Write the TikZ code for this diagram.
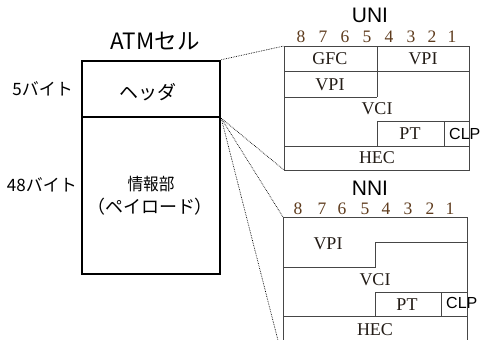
\documentclass[tikz,border=0pt]{standalone}
\usepackage{fontspec}
\setmainfont{Liberation Serif}
\setsansfont{Liberation Sans}
\newfontfamily\jp{Noto Sans CJK JP}
\definecolor{bitc}{RGB}{95,60,30}
\definecolor{frm}{RGB}{70,70,70}
\definecolor{fldc}{RGB}{35,28,22}
\begin{document}
\begin{tikzpicture}[x=1pt,y=-1pt,
  cellbox/.style={draw=black,line width=2.5pt,inner sep=0pt},
  jlab/.style={font=\jp\fontsize{17}{19}\selectfont,inner sep=0pt},
  title/.style={font=\sffamily\fontsize{21}{22}\selectfont,inner sep=0pt},
  fld/.style={font=\rmfamily\fontsize{18}{19}\selectfont,inner sep=0pt,text=fldc},
  bit/.style={font=\rmfamily\fontsize{17.5}{18}\selectfont,inner sep=0pt,text=bitc},
  clp/.style={font=\sffamily\fontsize{16}{18}\selectfont,inner sep=0pt,anchor=west},
  frame/.style={draw=frm,line width=0.9pt},
  zoomline/.style={draw=black,densely dotted,line width=0.7pt}]
\clip (0,0) rectangle (480,340);
\fill[white] (0,0) rectangle (480,340);
% ATM cell
\node[jlab,font=\jp\fontsize{22.5}{24}\selectfont] (atm) at (155,41) {ATMセル};
\node[cellbox,minimum width=138pt,minimum height=56pt] (head) at (151,89) {};
\node[jlab,font=\jp\fontsize{19}{20}\selectfont] (headtxt) at (148,92) {ヘッダ};
\node[cellbox,minimum width=138pt,minimum height=157pt] (body) at (151,195.5) {};
\node[jlab,xscale=0.92] (info) at (151,184) {情報部};
\node[jlab,font=\jp\fontsize{18}{19}\selectfont] (pay) at (150,207) {（ペイロード）};
\node[jlab,anchor=east] (h5) at (73,89) {5バイト};
\node[jlab,anchor=east] (h48) at (77,185) {48バイト};
% UNI
\node[title] (uni) at (370,15) {UNI};
\foreach \b/\x in {8/301,7/323,6/345,5/367,4/389,3/411,2/432,1/452}
  \node[bit] (ub\b) at (\x,37) {\b};
\coordinate (u1) at (284,46);
\coordinate (u2) at (469,170);
\coordinate (uhb) at (284,170);
\node[clp] (uclp) at (449,134) {CLP};
\draw[frame] (u1) rectangle (u2);
\draw[frame] (284,71) -- (469,71);
\draw[frame] (377,46) -- (377,97);
\draw[frame] (284,97) -- (377,97);
\draw[frame] (377,121) rectangle (469,146);
\draw[frame] (444,121) -- (444,146);
\draw[frame] (284,146) -- (469,146);
\node[fld] (ugfc) at (330,59) {GFC};
\node[fld] (uvpi1) at (423,59) {VPI};
\node[fld] (uvpi2) at (330,85) {VPI};
\node[fld] (uvci) at (377,109) {VCI};
\node[fld] (upt) at (410,134) {PT};
\node[fld] (uhec) at (377,158) {HEC};
% NNI
\node[title] (nni) at (370,188) {NNI};
\foreach \b/\x in {8/298,7/322,6/342,5/365,4/386,3/408,2/430,1/450}
  \node[bit] (nb\b) at (\x,209) {\b};
\coordinate (n1) at (283,217);
\coordinate (nbl) at (283,360);
\node[clp] (nclp) at (446,303) {CLP};
\draw[frame] (283,360) -- (n1) -- (467,217) -- (467,360);
\draw[frame] (283,267) -- (375,267) -- (375,242) -- (467,242);
\draw[frame] (375,316) -- (375,292) -- (467,292);
\draw[frame] (441,292) -- (441,316);
\draw[frame] (283,316) -- (467,316);
\node[fld] (nvpi) at (328,244) {VPI};
\node[fld] (nvci) at (375,280) {VCI};
\node[fld] (npt) at (407,305) {PT};
\node[fld] (nhec) at (375,330) {HEC};
% zoom lines
\draw[zoomline] (head.north east) -- (u1);
\draw[zoomline] (head.south east) -- (uhb);
\draw[zoomline] (head.south east) -- (n1);
\draw[zoomline] (head.south east) -- (nbl);
\end{tikzpicture}
\end{document}
